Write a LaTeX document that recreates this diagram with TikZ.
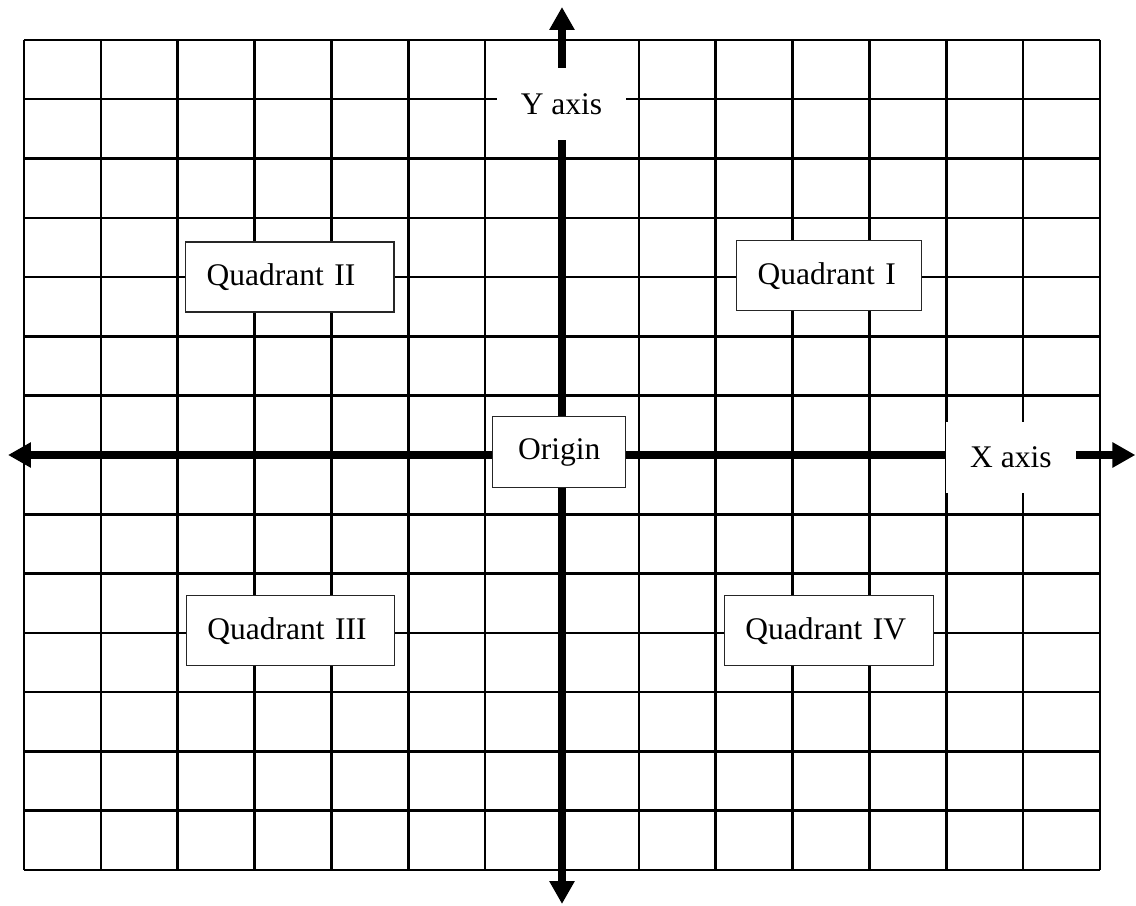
\documentclass[tikz,border=0pt]{standalone}
\usepackage{fontspec}
\setmainfont{Liberation Serif}
\usetikzlibrary{arrows.meta}

\begin{document}
\begin{tikzpicture}[x=76.86pt,y=59.29pt,font=\fontsize{31.5pt}{38pt}\selectfont,
  axis/.style={line width=7.5pt,{Triangle[length=23pt,width=24pt]}-{Triangle[length=23pt,width=24pt]}},
  quad/.style={draw=black!85,line width=1.2pt,fill=white,inner xsep=21pt,minimum height=70pt,text width=#1,align=left},
  tag/.style={fill=white,minimum width=130pt,minimum height=72pt}]
\useasboundingbox (-7.312,-7.590) rectangle (7.468,7.674);
\draw[line width=2.5pt,step={(1,1)}] (-7,-7) grid (7,7);
% axes
\coordinate (xl) at (-7.208,0);\coordinate (xr) at (7.46,0);
\coordinate (yb) at (0,-7.573);\coordinate (yt) at (0,7.556);
\draw[axis] (xl)--(xr);\draw[axis] (yb)--(yt);
% labels
\node[tag,minimum width=129pt] (ylab) at (-0.006,5.92) {Y axis};
\node[tag,minimum height=71pt] (xlab) at (5.84,-0.04) {X axis};
\node[draw=black!85,line width=1.2pt,fill=white,minimum width=133pt,minimum height=70.6pt] (orig) at (-0.036,0.05) {Origin};
\node[quad=166.3pt] (q2) at (-3.541,3.002) {Quadrant II};
\node[quad=143pt] (q1) at (3.476,3.022) {Quadrant I};
\node[quad=166.4pt] (q3) at (-3.532,-2.966) {Quadrant III};
\node[quad=167pt] (q4) at (3.471,-2.966) {Quadrant IV};
\end{tikzpicture}
\end{document}
